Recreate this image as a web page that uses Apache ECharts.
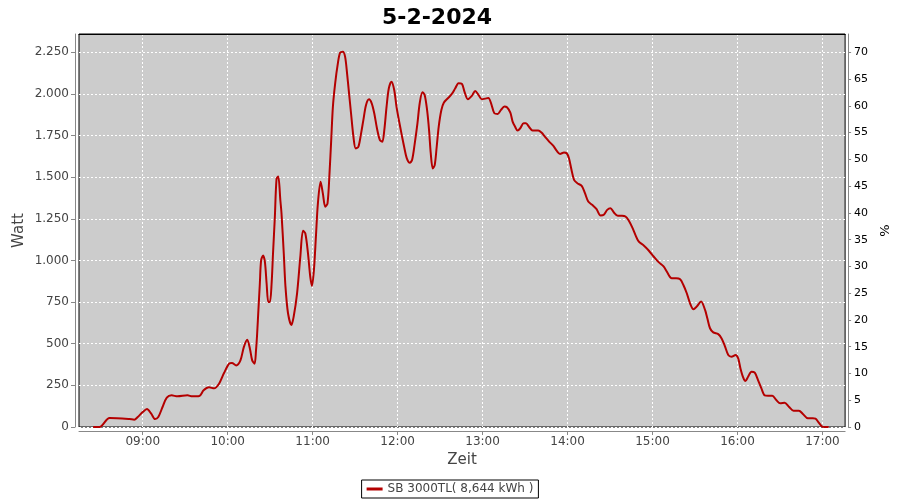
<!DOCTYPE html>
<html>
<head>
<meta charset="utf-8">
<script src="https://cdn.jsdelivr.net/npm/echarts@6/dist/echarts.min.js"></script>
<style>html,body{margin:0;padding:0;background:#fff}#c{width:900px;height:500px}</style>
</head>
<body>
<div id="c"></div>
<script>
// Time in minutes since midnight
const times = [505,509.5,516.6,530.6,534,536.5,540,543,546,548.7,551,554,557,560.4,564.6,571.6,575,580,583,586.8,590.4,593.9,597.4,601,603,606,609,611.4,613.8,615.7,617.3,619,620,620.8,621.8,622.7,623.6,625,626.3,627.5,628.7,629.8,631,632,633.3,634.5,635.7,637.2,638,639.6,640.8,642.6,645,646.6,649,651.3,653.2,654.8,656.7,658.3,659.5,660.9,662.3,663.7,665.6,667.2,668.9,670.5,671.9,673.1,674.3,675.9,677.8,679.4,681.3,682.9,684.3,685.7,687.1,688.8,690.4,692.3,694.2,695.8,697.7,699.8,701.7,703.5,705.4,707.5,709.2,710.6,712.2,713.8,715.7,717.6,719.2,720.9,722.7,724.6,726.5,728.6,730.2,732.1,734,735.6,737.5,739.1,740.8,742.2,743.4,744.8,746.2,747.6,749,750.9,752.7,755.5,758.3,760.7,763,765.4,767.2,769.6,772.4,774.8,777.1,779.4,781.8,784.1,786,788.3,790.7,793,795.4,797.2,799.6,801.2,802.9,804.7,806.6,809,810.6,813,815.3,819.3,821.6,824,827,830,832.4,834.7,837.5,839.4,841,842.7,844.6,846.9,850,852.3,854.6,857.4,860.5,863.3,865.6,868,870.3,872.7,875.5,878.5,880.9,883.2,885.6,887.9,890.2,893.8,897.3,900.8,904.3,907.8,910.1,913.6,916.7,919.5,921.8,924.2,926.5,928.9,931.2,934.3,937.1,938.7,940.6,942.9,946.4,948.8,951.1,953.5,955.8,958.6,960.5,962.1,964,965.6,967.5,969.9,972.2,974.5,976.9,979.2,981.6,984.6,987.4,990.2,993.3,996.3,999.6,1003.4,1006.2,1009.7,1013.2,1015.1,1017.4,1019.8,1021.4,1024.4];
const watts = [0,0,54,48,44,60,90,108,80,48,60,120,176,190,184,190,184,186,220,238,232,260,324,380,384,370,400,480,524,470,400,380,460,560,720,860,1000,1030,990,860,750,750,860,1040,1260,1490,1504,1360,1283,1043,843,683,612,663,803,1023,1179,1163,1043,903,847,943,1143,1343,1473,1403,1323,1343,1523,1723,1924,2064,2184,2248,2254,2224,2124,2004,1884,1743,1673,1683,1763,1843,1934,1968,1944,1884,1794,1723,1713,1783,1924,2034,2074,2024,1924,1843,1763,1683,1613,1587,1603,1703,1823,1944,2010,1994,1904,1783,1643,1553,1573,1683,1803,1904,1948,1974,2000,2034,2064,2060,2014,1968,1988,2018,1994,1968,1972,1976,1944,1884,1880,1904,1924,1920,1888,1834,1804,1780,1794,1824,1824,1800,1780,1780,1768,1744,1714,1688,1658,1640,1648,1644,1614,1548,1484,1464,1448,1404,1354,1334,1308,1270,1274,1304,1314,1288,1268,1268,1264,1240,1200,1154,1114,1090,1060,1024,990,964,933,893,893,887,853,803,743,707,723,753,703,653,593,568,558,532,486,432,422,432,412,352,298,276,302,332,326,282,232,190,188,188,162,142,146,122,98,98,78,52,52,50,26,2,0,0];
const hourTicks = [540,600,660,720,780,840,900,960,1020];
const leftTicks = [0,250,500,750,1000,1250,1500,1750,2000,2250];
const rightTicks = [0,5,10,15,20,25,30,35,40,45,50,55,60,65,70];
const seriesName = 'SB 3000TL( 8,644 kWh )';
const titleText = '5-2-2024';

const chart = echarts.init(document.getElementById('c'), null, {renderer: 'canvas'});
const FONT = 'DejaVu Sans';
const wMax = 2360, pMax = 2360 * 70 / 2250;
const fmtHour = v => { const h = Math.floor(v / 60), m = Math.round(v % 60); return String(h).padStart(2,'0') + ':' + String(m).padStart(2,'0'); };
const fmtW = v => v >= 1000 ? Math.floor(v/1000) + '.' + String(v % 1000).padStart(3,'0') : String(v);

chart.setOption({
  animation: false,
  backgroundColor: '#ffffff',
  title: {text: titleText, left: 432, textAlign: 'center', top: 2,
    textStyle: {fontFamily: FONT, fontSize: 22, fontWeight: 'bold', color: '#000'}},
  legend: {bottom: 2, left: 'center', borderColor: '#000', borderWidth: 1, padding: [3, 5, 3, 5],
    itemWidth: 16, itemHeight: 3, icon: 'rect', borderRadius: 0,
    textStyle: {fontFamily: FONT, fontSize: 12, color: '#444'}, data: [seriesName]},
  grid: {left: 79, right: 51, top: 34, bottom: 73, show: true, backgroundColor: '#cccccc', borderColor: '#000', borderWidth: 1},
  xAxis: [
    {type: 'value', min: 495, max: 1036, offset: 4,
      name: 'Zeit', nameLocation: 'middle', nameGap: 22,
      nameTextStyle: {fontFamily: FONT, fontSize: 15, color: '#444'},
      axisLine: {show: true, onZero: false, lineStyle: {color: '#888'}},
      axisTick: {show: true, length: 4, customValues: hourTicks, lineStyle: {color: '#888'}},
      axisLabel: {customValues: hourTicks, formatter: fmtHour, fontFamily: FONT, fontSize: 12, color: '#444', margin: 5},
      splitLine: {show: true, lineStyle: {color: '#fff', type: [2, 2], width: 1}}},
    {type: 'value', min: 495, max: 1036, position: 'top', z: 10,
      axisLine: {show: true, onZero: false, lineStyle: {color: '#000', width: 1}},
      axisTick: {show: false}, axisLabel: {show: false}, splitLine: {show: false}}
  ],
  yAxis: [
    {type: 'value', min: 0, max: wMax, interval: 250, offset: 4, position: 'left',
      name: 'Watt', nameLocation: 'middle', nameGap: 48, nameRotate: 90, nameMoveOverlap: false,
      nameTextStyle: {fontFamily: FONT, fontSize: 15, color: '#444'},
      axisLine: {show: true, lineStyle: {color: '#888'}},
      axisTick: {show: true, length: 4, lineStyle: {color: '#888'}},
      axisLabel: {formatter: fmtW, showMaxLabel: false, fontFamily: FONT, fontSize: 12, color: '#444', margin: 6},
      splitLine: {show: true, lineStyle: {color: '#fff', type: [2, 2], width: 1}}},
    {type: 'value', min: 0, max: pMax, interval: 5, offset: 3, position: 'right',
      name: '%', nameLocation: 'middle', nameGap: 25, nameRotate: 90,
      nameTextStyle: {fontFamily: FONT, fontSize: 13, color: '#000'},
      axisLine: {show: true, lineStyle: {color: '#888'}},
      axisTick: {show: true, length: 3, lineStyle: {color: '#888'}},
      axisLabel: {showMaxLabel: false, fontFamily: FONT, fontSize: 11, color: '#000', margin: 6},
      splitLine: {show: false}}
  ],
  series: [{name: seriesName, type: 'line', xAxisIndex: 0, yAxisIndex: 0, showSymbol: false, symbol: 'none', smooth: 0.3,
    lineStyle: {color: '#b40000', width: 2}, itemStyle: {color: '#b40000'},
    data: times.map((t, i) => [t, watts[i]])}]
});
</script>
</body>
</html>
